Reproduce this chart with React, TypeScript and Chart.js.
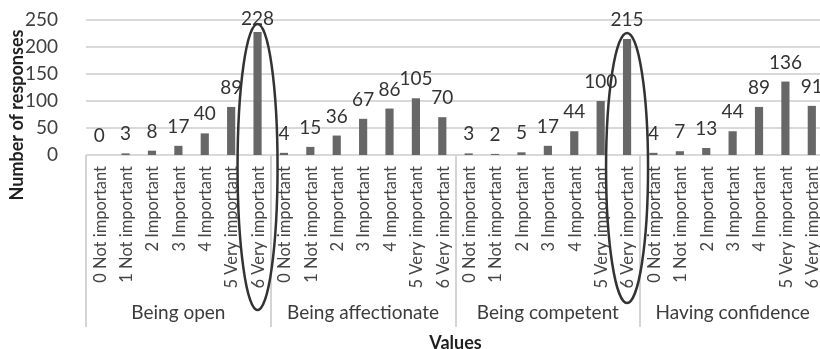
import React, { useEffect, useRef } from "react";
import { Chart, registerables } from "chart.js";

Chart.register(...registerables);

// Groups (values being rated) and the rating scale shown under each group
const groups = ["Being open", "Being affectionate", "Being competent", "Having confidence"];
const ratings = [
  "0 Not important",
  "1 Not important",
  "2 Important",
  "3 Important",
  "4 Important",
  "5 Very important",
  "6 Very important",
];

// Number of responses per rating, one array per group
const beingOpen = [0, 3, 8, 17, 40, 89, 228];
const beingAffectionate = [4, 15, 36, 67, 86, 105, 70];
const beingCompetent = [3, 2, 5, 17, 44, 100, 215];
const havingConfidence = [4, 7, 13, 44, 89, 136, 91];

const yTicks = [0, 50, 100, 150, 200, 250];

// Bars that get an outline ellipse (index into the flattened category list)
const highlighted = [6, 20];

const labels = groups.flatMap(() => ratings);
const values = [...beingOpen, ...beingAffectionate, ...beingCompetent, ...havingConfidence];

const FONT = "Lato, 'Open Sans', sans-serif";

// horizontal gridlines (the 0 line doubles as the category axis), under the bars
const gridLines = {
  id: "gridLines",
  beforeDatasetsDraw(chart: any) {
    const { ctx, chartArea } = chart;
    const y = chart.scales.y;
    ctx.save();
    ctx.fillStyle = "#d9d9d9";
    yTicks.forEach((v) => {
      const py = Math.round(y.getPixelForValue(v));
      ctx.fillRect(chartArea.left, py - 1, chartArea.right - chartArea.left, 2);
    });
    ctx.restore();
  },
};

const decorations = {
  id: "decorations",
  afterDatasetsDraw(chart: any) {
    const { ctx, chartArea } = chart;
    const x = chart.scales.x;
    const y = chart.scales.y;
    const meta = chart.getDatasetMeta(0);
    const step = x.getPixelForValue(1) - x.getPixelForValue(0);

    ctx.save();

    // value labels above the bars
    ctx.fillStyle = "#333333";
    ctx.font = `19px ${FONT}`;
    ctx.textAlign = "center";
    ctx.textBaseline = "alphabetic";
    meta.data.forEach((bar: any, i: number) => {
      const yy = Math.max(bar.y - 13, chartArea.top + 5);
      ctx.fillText(String(values[i]), bar.x, yy);
    });

    // rotated rating labels, anchored just under the axis line
    ctx.fillStyle = "#454545";
    ctx.font = `16.5px ${FONT}`;
    ctx.textAlign = "right";
    ctx.textBaseline = "middle";
    labels.forEach((text, i) => {
      ctx.save();
      ctx.translate(x.getPixelForValue(i) + 1, chartArea.bottom + 11);
      ctx.rotate(-Math.PI / 2);
      ctx.fillText(text, 0, 0);
      ctx.restore();
    });

    // group separators below the axis
    ctx.fillStyle = "#d4d4d4";
    const sepLen = 172;
    for (let g = 0; g <= groups.length; g++) {
      const px = Math.round(x.getPixelForValue(g * ratings.length) - step / 2);
      ctx.fillRect(px - 1, chartArea.bottom, 2, sepLen);
    }

    // group names
    ctx.fillStyle = "#3c3c3c";
    ctx.font = `19px ${FONT}`;
    ctx.textAlign = "center";
    ctx.textBaseline = "middle";
    groups.forEach((name, g) => {
      const c0 = x.getPixelForValue(g * ratings.length) - step / 2;
      const c1 = x.getPixelForValue((g + 1) * ratings.length - 1) + step / 2;
      ctx.fillText(name, (c0 + c1) / 2, chartArea.bottom + 158);
    });

    // outline ellipses around the highlighted bars
    ctx.strokeStyle = "#333333";
    ctx.lineWidth = 2.5;
    highlighted.forEach((idx, k) => {
      const cx = x.getPixelForValue(idx);
      const top = y.getPixelForValue(values[idx]) - (k === 0 ? 8 : 6);
      const bot = chartArea.bottom + (k === 0 ? 155 : 148);
      const rx = k === 0 ? 20 : 21;
      ctx.beginPath();
      ctx.ellipse(cx, (top + bot) / 2, rx, (bot - top) / 2, 0, 0, Math.PI * 2);
      ctx.stroke();
    });

    // axis titles
    ctx.fillStyle = "#1f1f1f";
    ctx.font = `bold 18px ${FONT}`;
    ctx.textAlign = "center";
    ctx.textBaseline = "alphabetic";
    ctx.fillText("Values", (chartArea.left + chartArea.right) / 2, 349);

    ctx.save();
    ctx.translate(23, 115);
    ctx.rotate(-Math.PI / 2);
    ctx.fillText("Number of responses", 0, 0);
    ctx.restore();

    ctx.restore();
  },
};

export default function App() {
  const canvasRef = useRef<HTMLCanvasElement>(null);

  useEffect(() => {
    const canvas = canvasRef.current;
    if (!canvas) return;
    const chart = new Chart(canvas, {
      type: "bar",
      data: {
        labels,
        datasets: [
          {
            data: values,
            backgroundColor: "#676767",
            barPercentage: 0.31,
            categoryPercentage: 1,
          },
        ],
      },
      options: {
        responsive: false,
        animation: false,
        devicePixelRatio: 1,
        layout: { padding: { top: 20, right: 15, bottom: 0, left: 0 } },
        plugins: {
          legend: { display: false },
          tooltip: { enabled: false },
        },
        scales: {
          x: {
            grid: { display: false },
            border: { display: false },
            ticks: { display: false },
            afterFit: (scale: any) => {
              scale.height = 194;
            },
          },
          y: {
            min: 0,
            max: 250,
            afterBuildTicks: (scale: any) => {
              scale.ticks = yTicks.map((v) => ({ value: v }));
            },
            grid: { display: false },
            border: { display: false },
            ticks: {
              autoSkip: false,
              padding: 20,
              color: "#404040",
              font: { family: FONT, size: 19 },
            },
            afterFit: (scale: any) => {
              scale.width = 86;
              scale.paddingTop = 0;
              scale.paddingBottom = 0;
            },
          },
        },
      },
      plugins: [gridLines, decorations],
    });
    return () => chart.destroy();
  }, []);

  return (
    <div
      style={{
        position: "fixed",
        left: 0,
        top: 0,
        width: 820,
        height: 349,
        overflow: "hidden",
        background: "#ffffff",
      }}
    >
      <canvas ref={canvasRef} width={840} height={349} style={{ display: "block" }} />
    </div>
  );
}
